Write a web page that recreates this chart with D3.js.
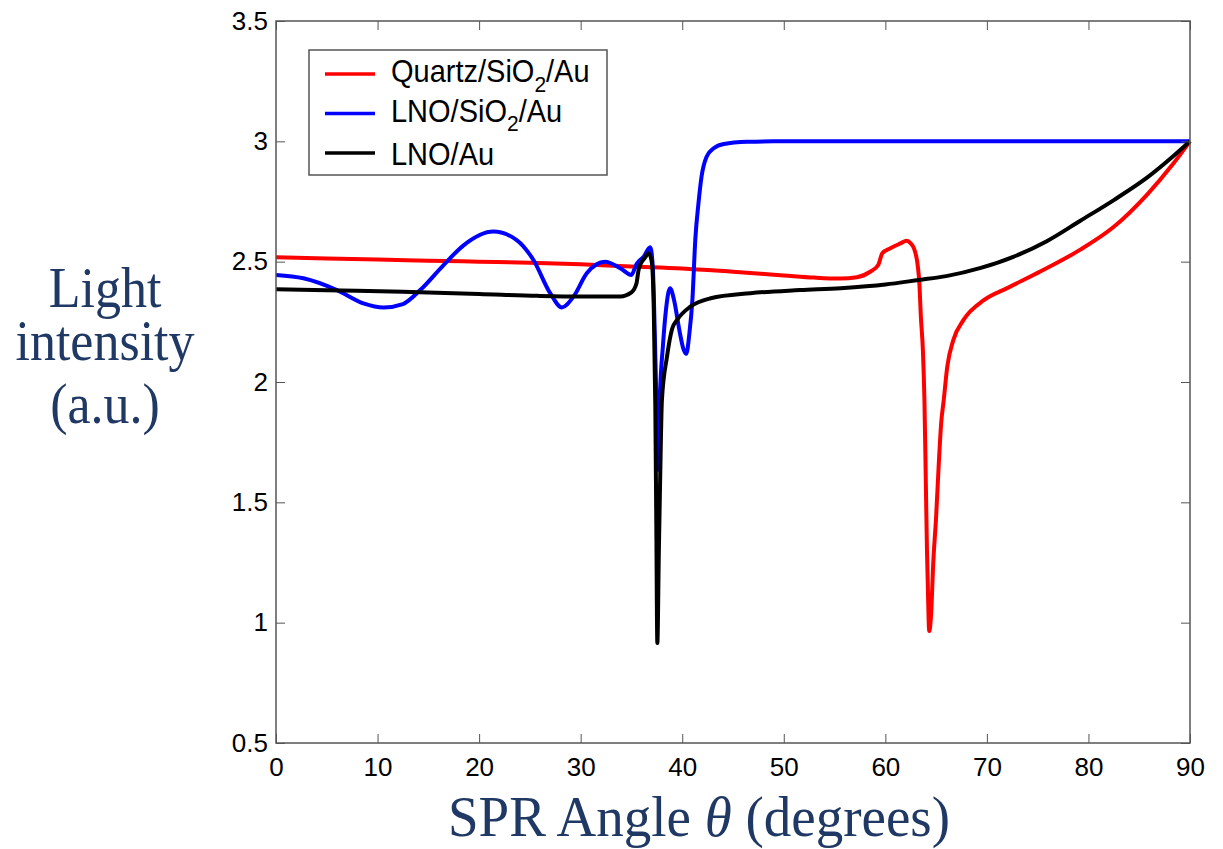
<!DOCTYPE html>
<html lang="en">
<head>
    <meta charset="utf-8">
    <title>SPR Angle</title>
    <script src="https://d3js.org/d3.v7.min.js"></script>
    <style>
        body{
            margin: 0;
            background-color: white;
        }
        svg{
            display: block;
        }
        .tick text{
            font-family: "Liberation Sans", Arial, sans-serif;
            font-size: 26px;
            fill: #000;
        }
        .tick line{
            stroke: #555;
        }
        .title{
            font-family: "Liberation Serif", "Times New Roman", serif;
            fill: #1f3864;
        }
        .legend text{
            font-family: "Liberation Sans", Arial, sans-serif;
            font-size: 29px;
        }
    </style>
</head>
<body>
<div id="my_dataviz"></div>
<script>

// angle in degrees / light intensity
var quartzX = [0, 5, 10, 15, 20, 25, 30, 35, 40, 45, 50, 53, 55.6, 57.2, 58.5, 59.3, 59.7, 60.5, 61.5, 62.1, 62.5, 62.8, 63.2, 63.35, 63.5, 63.7, 63.85, 64.0, 64.1, 64.2, 64.32, 64.45, 64.55, 64.7, 65.0, 65.25, 65.5, 65.75, 66.1, 66.7, 67.7, 69.7, 72.0, 75.3, 79.2, 82.5, 85.8, 88.4, 90]
var quartzY = [2.518, 2.513, 2.509, 2.504, 2.500, 2.496, 2.489, 2.480, 2.472, 2.458, 2.443, 2.434, 2.430, 2.435, 2.458, 2.486, 2.535, 2.556, 2.576, 2.587, 2.576, 2.557, 2.48, 2.41, 2.27, 2.13, 1.925, 1.55, 1.3, 1.12, 0.965, 1.0, 1.07, 1.233, 1.44, 1.65, 1.83, 1.925, 2.064, 2.175, 2.258, 2.34, 2.39, 2.46, 2.55, 2.645, 2.78, 2.91, 3.0]

var lnoSiX = [0, 2.7, 6.0, 8.6, 10.6, 12.5, 14.2, 16.5, 18.5, 21.4, 23.7, 25.35, 27.0, 28.15, 29.3, 30.6, 32.4, 33.9, 35.0, 35.5, 35.7, 36.2, 36.85, 37.1, 37.3, 37.5, 37.65, 37.8, 38.1, 38.4, 38.8, 39.2, 39.7, 40.1, 40.4, 40.7, 41.0, 41.3, 41.6, 41.9, 42.4, 43.1, 44.1, 46.4, 49, 90]
var lnoSiY = [2.445, 2.431, 2.382, 2.327, 2.31, 2.324, 2.382, 2.486, 2.569, 2.625, 2.59, 2.507, 2.369, 2.31, 2.355, 2.452, 2.50, 2.473, 2.445, 2.49, 2.50, 2.52, 2.56, 2.48, 2.2, 1.85, 1.635, 1.93, 2.15, 2.3, 2.39, 2.34, 2.22, 2.14, 2.117, 2.2, 2.34, 2.6, 2.743, 2.853, 2.936, 2.971, 2.989, 2.998, 3.0, 3.0]

var lnoAuX = [0, 5, 12.5, 20, 25.7, 30, 33.9, 35.0, 35.5, 35.7, 35.9, 36.3, 36.7, 37.0, 37.2, 37.35, 37.45, 37.55, 37.7, 37.85, 38.0, 38.5, 39.0, 39.5, 40.8, 42.8, 46.7, 51.6, 55.6, 60, 63.3, 66, 69.4, 72.6, 75.9, 79.2, 82.5, 85.8, 88.4, 90]
var lnoAuY = [2.385, 2.381, 2.375, 2.366, 2.358, 2.355, 2.355, 2.372, 2.41, 2.465, 2.49, 2.515, 2.535, 2.50, 2.3, 1.9, 1.4, 0.915, 1.3, 1.65, 1.925, 2.105, 2.22, 2.258, 2.313, 2.348, 2.369, 2.382, 2.39, 2.405, 2.424, 2.44, 2.474, 2.52, 2.585, 2.67, 2.756, 2.85, 2.94, 3.0]

var xTicks = [0, 10, 20, 30, 40, 50, 60, 70, 80, 90]
var yTicks = [0.5, 1, 1.5, 2, 2.5, 3, 3.5]

var seriesNames = ["Quartz/SiO|2|/Au", "LNO/SiO|2|/Au", "LNO/Au"]
var seriesColors = ["#ff0000", "#0000ff", "#000000"]

var series = [
    {name: seriesNames[0], color: seriesColors[0], xs: quartzX, ys: quartzY},
    {name: seriesNames[1], color: seriesColors[1], xs: lnoSiX, ys: lnoSiY},
    {name: seriesNames[2], color: seriesColors[2], xs: lnoAuX, ys: lnoAuY}
]

var width = 1223
var height = 849
var margin = {left: 276, right: 33, top: 21, bottom: 106}
var w = width - margin.left - margin.right
var h = height - margin.top - margin.bottom

var svg = d3.select("#my_dataviz")
  .append("svg")
    .attr("width", width)
    .attr("height", height)

var g = svg.append("g")
    .attr("transform", "translate(" + margin.left + "," + margin.top + ")")

var x = d3.scaleLinear().domain([0, 90]).range([0, w])
var y = d3.scaleLinear().domain([0.5, 3.5]).range([h, 0])

// curves
var line = d3.line()
    .x(d => x(d[0]))
    .y(d => y(d[1]))
    .curve(d3.curveMonotoneX)

series.forEach(function(s){
    var pts = s.xs.map((v, i) => [v, s.ys[i]])
    g.append("path")
        .datum(pts)
        .attr("fill", "none")
        .attr("stroke", s.color)
        .attr("stroke-width", 4)
        .attr("stroke-linejoin", "round")
        .attr("d", line)
})

// axes, ticks pointing inward on all four sides
g.append("g")
    .attr("class", "axis")
    .attr("transform", "translate(0," + h + ")")
    .call(d3.axisBottom(x).tickValues(xTicks).tickSize(-9).tickSizeOuter(0).tickPadding(15).tickFormat(d3.format("d")))
g.append("g")
    .attr("class", "axis")
    .call(d3.axisTop(x).tickValues(xTicks).tickSize(-9).tickSizeOuter(0).tickFormat(""))
g.append("g")
    .attr("class", "axis")
    .call(d3.axisLeft(y).tickValues(yTicks).tickSize(-9).tickSizeOuter(0).tickPadding(8).tickFormat(d => String(d)))
g.append("g")
    .attr("class", "axis")
    .attr("transform", "translate(" + w + ",0)")
    .call(d3.axisRight(y).tickValues(yTicks).tickSize(-9).tickSizeOuter(0).tickFormat(""))

g.selectAll(".axis .domain").remove()
g.append("rect")
    .attr("width", w)
    .attr("height", h)
    .attr("fill", "none")
    .attr("stroke", "#555")
    .attr("stroke-width", 1.5)

// legend
var legend = svg.append("g")
    .attr("class", "legend")
    .attr("transform", "translate(309,50)")

legend.append("rect")
    .attr("width", 298)
    .attr("height", 125)
    .attr("fill", "white")
    .attr("stroke", "#555")
    .attr("stroke-width", 1.5)

var rowY = [24, 63.5, 103]
var textY = [32, 71.5, 115]
series.forEach(function(s, i){
    legend.append("line")
        .attr("x1", 16).attr("x2", 66)
        .attr("y1", rowY[i]).attr("y2", rowY[i])
        .attr("stroke", s.color)
        .attr("stroke-width", 3.5)
    var t = legend.append("text")
        .attr("transform", "translate(82," + textY[i] + ") scale(1,1.08)")
    s.name.split("|").forEach(function(part, j){
        if (j == 1) {
            t.append("tspan").attr("dy", 9).attr("font-size", "21px").text(part)
        } else if (j == 2) {
            t.append("tspan").attr("dy", -9).text(part)
        } else {
            t.append("tspan").text(part)
        }
    })
})

// axis titles
var xt = svg.append("text")
    .attr("class", "title")
    .attr("transform", "translate(448,836) scale(1,1.04)")
    .style("font-size", "55px")
xt.append("tspan").text("SPR Angle ")
xt.append("tspan").style("font-style", "italic").text("θ")
xt.append("tspan").text(" (degrees)")

var yLines = ["Light", "intensity", "(a.u.)"]
var yBase = [307, 360, 423]
yLines.forEach(function(s, i){
    svg.append("text")
        .attr("class", "title")
        .attr("transform", "translate(105," + yBase[i] + ") scale(1,1.08)")
        .attr("text-anchor", "middle")
        .style("font-size", "52px")
        .text(s)
})

</script>
</body>
</html>
